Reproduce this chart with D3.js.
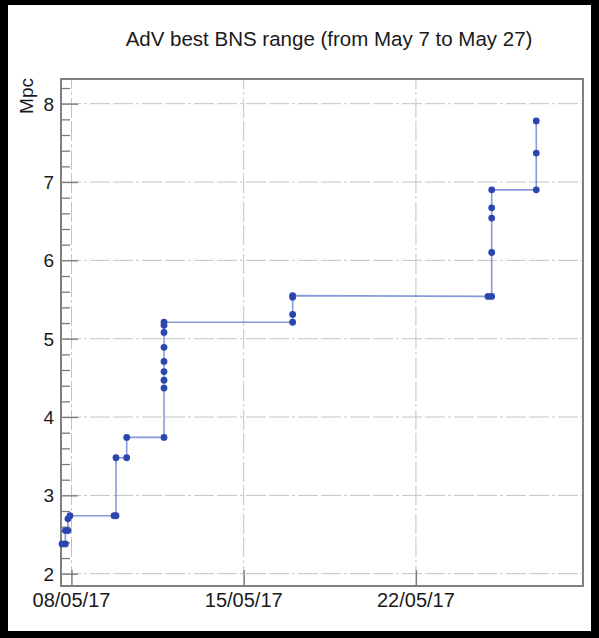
<!DOCTYPE html>
<html><head><meta charset="utf-8">
<script src="https://cdn.jsdelivr.net/npm/d3@7"></script>
<style>
html,body{margin:0;padding:0;background:#000;}
svg{display:block;}
text{font-family:"Liberation Sans",Arial,Helvetica,sans-serif;fill:#1a1a1a;}
</style></head>
<body>
<svg id="c" width="599" height="638"></svg>
<script>
// ---- data ----
const times = [
  "2017-05-07 14:45","2017-05-07 18:00","2017-05-07 18:00","2017-05-07 20:30","2017-05-07 20:30","2017-05-07 22:30",
  "2017-05-09 17:30","2017-05-09 19:25","2017-05-09 19:25",
  "2017-05-10 05:50","2017-05-10 05:50",
  "2017-05-11 18:15","2017-05-11 18:15","2017-05-11 18:15","2017-05-11 18:15","2017-05-11 18:15","2017-05-11 18:15","2017-05-11 18:15","2017-05-11 18:15","2017-05-11 18:15",
  "2017-05-16 23:45","2017-05-16 23:45","2017-05-16 23:45","2017-05-16 23:45",
  "2017-05-24 22:20","2017-05-25 01:55","2017-05-25 01:55","2017-05-25 01:55","2017-05-25 01:55","2017-05-25 01:55",
  "2017-05-26 21:25","2017-05-26 21:25","2017-05-26 21:25"
];
const values = [
  2.38,2.38,2.55,2.55,2.70,2.74,
  2.74,2.74,3.48,
  3.48,3.74,
  3.74,4.37,4.47,4.58,4.71,4.89,5.08,5.17,5.21,
  5.21,5.31,5.53,5.55,
  5.54,5.54,6.10,6.54,6.67,6.90,
  6.90,7.37,7.78
];
const xTickDates = ["2017-05-08","2017-05-15","2017-05-22"];
const yTicks = [2,3,4,5,6,7,8];
const xDomain = ["2017-05-07 13:45","2017-05-28 19:00"];
const yDomain = [1.843, 8.315];
const title = "AdV best BNS range (from May 7 to May 27)";
const yLabel = "Mpc";

// ---- drawing ----
const parseT = d3.timeParse("%Y-%m-%d %H:%M");
const parseD = d3.timeParse("%Y-%m-%d");
const fmt = d3.timeFormat("%d/%m/%y");
const data = times.map((t,i)=>({t:parseT(t), v:values[i]}));

const L=61, R=583, T=79, B=586;
const x = d3.scaleTime().domain(xDomain.map(parseT)).range([L,R]);
const y = d3.scaleLinear().domain(yDomain).range([B,T]);

const svg = d3.select("#c");
svg.append("rect").attr("x",8).attr("y",5).attr("width",583).attr("height",626).attr("fill","#fff");

// grid
const gridDash = "20,3,3,3,20,3";
svg.append("g").selectAll("line").data(yTicks).join("line")
  .attr("x1",L).attr("x2",R).attr("y1",d=>y(d)).attr("y2",d=>y(d))
  .attr("stroke","#c4c4c4").attr("stroke-width",1).attr("stroke-dasharray",gridDash);
svg.append("g").selectAll("line").data(xTickDates.map(parseD)).join("line")
  .attr("y1",B).attr("y2",T).attr("x1",d=>x(d)).attr("x2",d=>x(d))
  .attr("stroke","#c4c4c4").attr("stroke-width",1).attr("stroke-dasharray",gridDash);

// y axis (ticks inside, ROOT style)
const yAxis = d3.axisRight(y).tickValues(yTicks).tickSize(17).tickFormat("");
const gy = svg.append("g").attr("transform",`translate(${L},0)`).call(yAxis);
const minor = d3.range(2, 8.31, 0.2).filter(v=>Math.abs(v-Math.round(v))>1e-6);
const yMinor = d3.axisRight(y).tickValues(minor).tickSize(9).tickFormat("");
const gym = svg.append("g").attr("transform",`translate(${L},0)`).call(yMinor);
[gy,gym].forEach(g=>{g.select(".domain").remove(); g.selectAll("line").attr("stroke","#7a7a7a").attr("stroke-width",1.3);});
svg.append("g").selectAll("text").data(yTicks).join("text")
  .attr("x",L-7).attr("y",d=>y(d)).attr("dy","0.36em").attr("text-anchor","end")
  .attr("font-size",19).text(d=>d);

// x axis
const xAxis = d3.axisTop(x).tickValues(xTickDates.map(parseD)).tickSize(16).tickFormat("");
const gx = svg.append("g").attr("transform",`translate(0,${B})`).call(xAxis);
gx.select(".domain").remove(); gx.selectAll("line").attr("stroke","#7a7a7a").attr("stroke-width",1.3);
svg.append("g").selectAll("text").data(xTickDates.map(parseD)).join("text")
  .attr("x",d=>x(d)).attr("y",B+21).attr("text-anchor","middle")
  .attr("font-size",20).text(d=>fmt(d));

// frame
svg.append("rect").attr("x",L).attr("y",T).attr("width",R-L).attr("height",B-T)
  .attr("fill","none").attr("stroke","#808080").attr("stroke-width",2);

// line + markers
svg.append("path").datum(data)
  .attr("d", d3.line().x(d=>x(d.t)).y(d=>y(d.v)))
  .attr("fill","none").attr("stroke","#3b55c0").attr("stroke-opacity",0.6).attr("stroke-width",1.6);
svg.append("g").selectAll("circle").data(data).join("circle")
  .attr("cx",d=>x(d.t)).attr("cy",d=>y(d.v)).attr("r",3.4).attr("fill","#2c46b0");

// titles
svg.append("text").attr("x",329).attr("y",46).attr("text-anchor","middle").attr("font-size",20.5).text(title);
svg.append("text").attr("transform",`translate(33,${T-1}) rotate(-90)`).attr("text-anchor","end")
  .attr("font-size",19).text(yLabel);
</script>
</body></html>
